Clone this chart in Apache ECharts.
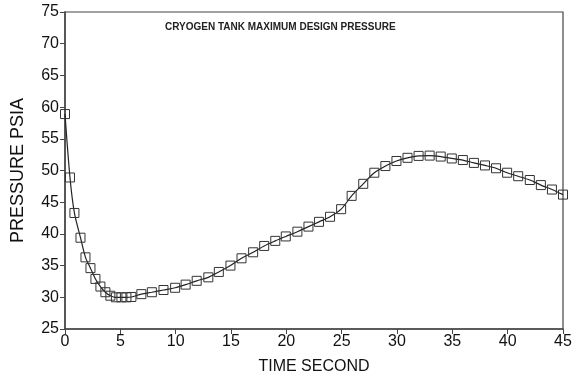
<!DOCTYPE html>
<html><head><meta charset="utf-8">
<script src="https://cdn.jsdelivr.net/npm/echarts@6/dist/echarts.min.js"></script>
<style>html,body{margin:0;padding:0;background:#fff}#c{width:577px;height:377px}</style>
</head><body><div id="c"></div>
<script>
const timeSec = [0,0.45,0.85,1.4,1.85,2.3,2.75,3.2,3.65,4.1,4.6,5.1,5.55,6.0,6.9,7.85,8.9,9.95,10.9,11.9,12.95,13.9,14.95,15.95,17.0,18.0,19.0,19.95,21.0,22.0,22.95,23.95,24.95,25.9,26.95,27.95,28.95,29.95,30.95,31.95,32.95,33.95,34.95,35.95,36.95,37.95,38.95,39.95,40.95,42.0,43.0,44.0,45.0];
const pressure = [58.9,48.9,43.3,39.4,36.3,34.6,32.9,31.7,30.8,30.25,30.0,30.0,30.0,30.05,30.5,30.8,31.15,31.5,32.0,32.6,33.15,34.0,35.0,36.15,37.1,38.1,38.9,39.6,40.35,41.15,41.9,42.7,43.9,46.0,47.9,49.65,50.7,51.5,52.0,52.3,52.35,52.2,51.9,51.65,51.2,50.8,50.35,49.65,49.1,48.5,47.7,47.0,46.2];
const xTicks = [0,5,10,15,20,25,30,35,40,45];
const yTicks = [25,30,35,40,45,50,55,60,65,70,75];
const titleText = 'CRYOGEN TANK MAXIMUM DESIGN PRESSURE';

const chart = echarts.init(document.getElementById('c'));
const axisFont = {color:'#111', fontSize:16, fontFamily:'Liberation Sans, Arial, sans-serif'};
chart.setOption({
  animation:false,
  backgroundColor:'#fff',
  title:{text:titleText, left:160, top:17, textStyle:{fontSize:10, fontWeight:'bold', color:'#222', fontFamily:'Liberation Sans Narrow, Liberation Sans, sans-serif'}},
  grid:{left:65, right:14, top:12, bottom:48, show:true, borderColor:'#444', borderWidth:1.2, outerBoundsMode:'none', containLabel:false},
  xAxis:{type:'value', min:0, max:45, interval:5,
    name:'TIME SECOND', nameLocation:'middle', nameGap:30,
    nameTextStyle:{color:'#111', fontSize:16, fontFamily:'Liberation Sans, Arial, sans-serif'},
    axisLine:{show:true, onZero:false, lineStyle:{color:'#444', width:1.5}},
    axisTick:{show:true, length:5, lineStyle:{color:'#444'}},
    axisLabel:Object.assign({margin:5, formatter:v=>xTicks.includes(v)?String(v):''}, axisFont),
    splitLine:{show:false}},
  yAxis:{type:'value', min:25, max:75, interval:5,
    name:'PRESSURE PSIA', nameLocation:'middle', nameGap:38, nameRotate:90,
    nameTextStyle:{color:'#111', fontSize:18, fontFamily:'Liberation Sans, Arial, sans-serif'},
    axisLine:{show:true, onZero:false, lineStyle:{color:'#444', width:1.5}},
    axisTick:{show:true, length:5, lineStyle:{color:'#444'}},
    axisLabel:Object.assign({margin:6, formatter:v=>yTicks.includes(v)?String(v):''}, axisFont),
    splitLine:{show:false}},
  series:[{type:'line', data:timeSec.map((t,i)=>[t,pressure[i]]), smooth:0.3,
    symbol:'rect', symbolSize:9, showAllSymbol:true,
    lineStyle:{color:'#222', width:1.2},
    itemStyle:{color:'rgba(255,255,255,0)', borderColor:'#333', borderWidth:1}}]
});
</script></body></html>
